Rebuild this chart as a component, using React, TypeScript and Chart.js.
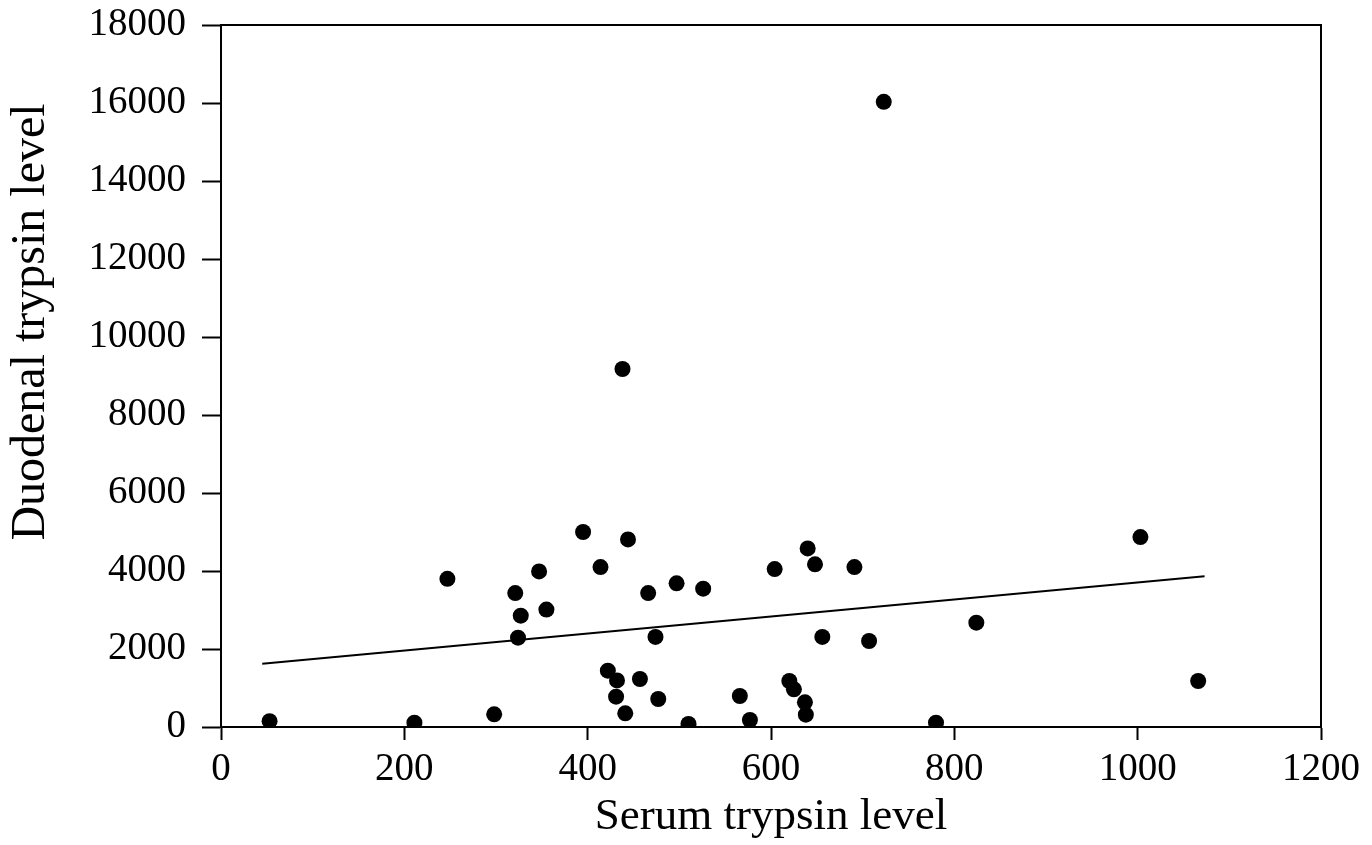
import React, { useEffect, useRef } from "react";
import { Chart, registerables } from "chart.js";

Chart.register(...registerables);

// Scatter data
const serumLevels = [
  53, 211, 247, 298, 321, 347, 327, 355, 324, 395, 414, 444, 466, 497, 526,
  604, 640, 648, 691, 474, 656, 707, 824, 422, 432, 457, 431, 477, 441, 510,
  566, 577, 620, 625, 637, 638, 780, 1003, 1066, 438, 723,
];
const duodenalLevels = [
  150, 110, 3800, 325, 3435, 3990, 2855, 3010, 2290, 5000, 4100, 4810, 3435,
  3685, 3546, 4050, 4580, 4170, 4100, 2310, 2310, 2205, 2675, 1445, 1195, 1230,
  777, 718, 350, 77, 795, 180, 1180, 967, 633, 315, 110, 4870, 1180, 9180, 16030,
];

// Regression line endpoints
const trendSerum = [45, 1073];
const trendDuodenal = [1623, 3864];

const xAxisTitle = "Serum trypsin level";
const yAxisTitle = "Duodenal trypsin level";
const xRange = [0, 1200];
const yRange = [0, 18000];
const xStep = 200;
const yStep = 2000;

const FONT = '"Liberation Serif", "Times New Roman", serif';

const framePlugin = {
  id: "frame",
  afterDatasetsDraw(chart: any) {
    const { ctx, chartArea } = chart;
    ctx.save();
    ctx.strokeStyle = "#000";
    ctx.lineWidth = 2;
    ctx.beginPath();
    ctx.moveTo(chartArea.left, chartArea.top);
    ctx.lineTo(chartArea.right, chartArea.top);
    ctx.lineTo(chartArea.right, chartArea.bottom);
    ctx.stroke();
    ctx.restore();
  },
};

const yTitlePlugin = {
  id: "yTitle",
  afterDraw(chart: any) {
    const { ctx } = chart;
    ctx.save();
    ctx.translate(31, 322);
    ctx.rotate(-Math.PI / 2);
    ctx.font = `48px ${FONT}`;
    ctx.fillStyle = "#000";
    ctx.textAlign = "center";
    ctx.textBaseline = "middle";
    ctx.fillText(yAxisTitle, 0, 0);
    ctx.restore();
  },
};

const plainNumber = (v: any) => String(v);

export default function App() {
  const canvasRef = useRef<HTMLCanvasElement | null>(null);

  useEffect(() => {
    if (!canvasRef.current) return;
    const points = serumLevels.map((x, i) => ({ x, y: duodenalLevels[i] }));
    const trend = trendSerum.map((x, i) => ({ x, y: trendDuodenal[i] }));

    const chart = new Chart(canvasRef.current, {
      type: "scatter",
      data: {
        datasets: [
          {
            type: "scatter",
            data: points,
            backgroundColor: "#000",
            borderWidth: 0,
            pointRadius: 8,
            pointHoverRadius: 8,
          },
          {
            type: "line",
            data: trend,
            borderColor: "#000",
            borderWidth: 2,
            pointRadius: 0,
            fill: false,
            tension: 0,
          } as any,
        ],
      },
      options: {
        responsive: false,
        animation: false,
        devicePixelRatio: 1,
        layout: { padding: { top: 25, right: 51, left: 0, bottom: 0 } },
        plugins: {
          legend: { display: false },
          tooltip: { enabled: false },
        },
        scales: {
          x: {
            type: "linear",
            position: "bottom",
            min: xRange[0],
            max: xRange[1],
            afterFit(scale: any) {
              scale.height = 118;
              scale.paddingLeft = 0;
              scale.paddingRight = 0;
              scale.paddingTop = 0;
              scale.paddingBottom = 0;
            },
            ticks: {
              stepSize: xStep,
              color: "#000",
              font: { family: FONT, size: 39, lineHeight: 1 },
              padding: 10,
              maxRotation: 0,
              autoSkip: false,
              callback: plainNumber,
            },
            grid: {
              drawOnChartArea: false,
              drawTicks: true,
              tickLength: 13,
              tickWidth: 2,
              tickColor: "#000",
            },
            border: { display: true, color: "#000", width: 2 },
            title: {
              display: true,
              text: xAxisTitle,
              color: "#000",
              font: { family: FONT, size: 45, lineHeight: 1.2 },
              padding: { top: 0, bottom: 1 },
            },
          },
          y: {
            type: "linear",
            position: "left",
            min: yRange[0],
            max: yRange[1],
            afterFit(scale: any) {
              scale.width = 221;
              scale.paddingLeft = 0;
              scale.paddingRight = 0;
              scale.paddingTop = 0;
              scale.paddingBottom = 0;
            },
            ticks: {
              stepSize: yStep,
              color: "#000",
              font: { family: FONT, size: 39, lineHeight: 1 },
              padding: 16,
              autoSkip: false,
              callback: plainNumber,
            },
            grid: {
              drawOnChartArea: false,
              drawTicks: true,
              tickLength: 19,
              tickWidth: 2,
              tickColor: "#000",
            },
            border: { display: true, color: "#000", width: 2 },
          },
        },
      },
      plugins: [framePlugin, yTitlePlugin],
    });
    return () => chart.destroy();
  }, []);

  return (
    <div style={{ position: "absolute", left: 0, top: 0, width: 1372, height: 845, background: "#fff" }}>
      <canvas ref={canvasRef} width={1372} height={845} />
    </div>
  );
}
